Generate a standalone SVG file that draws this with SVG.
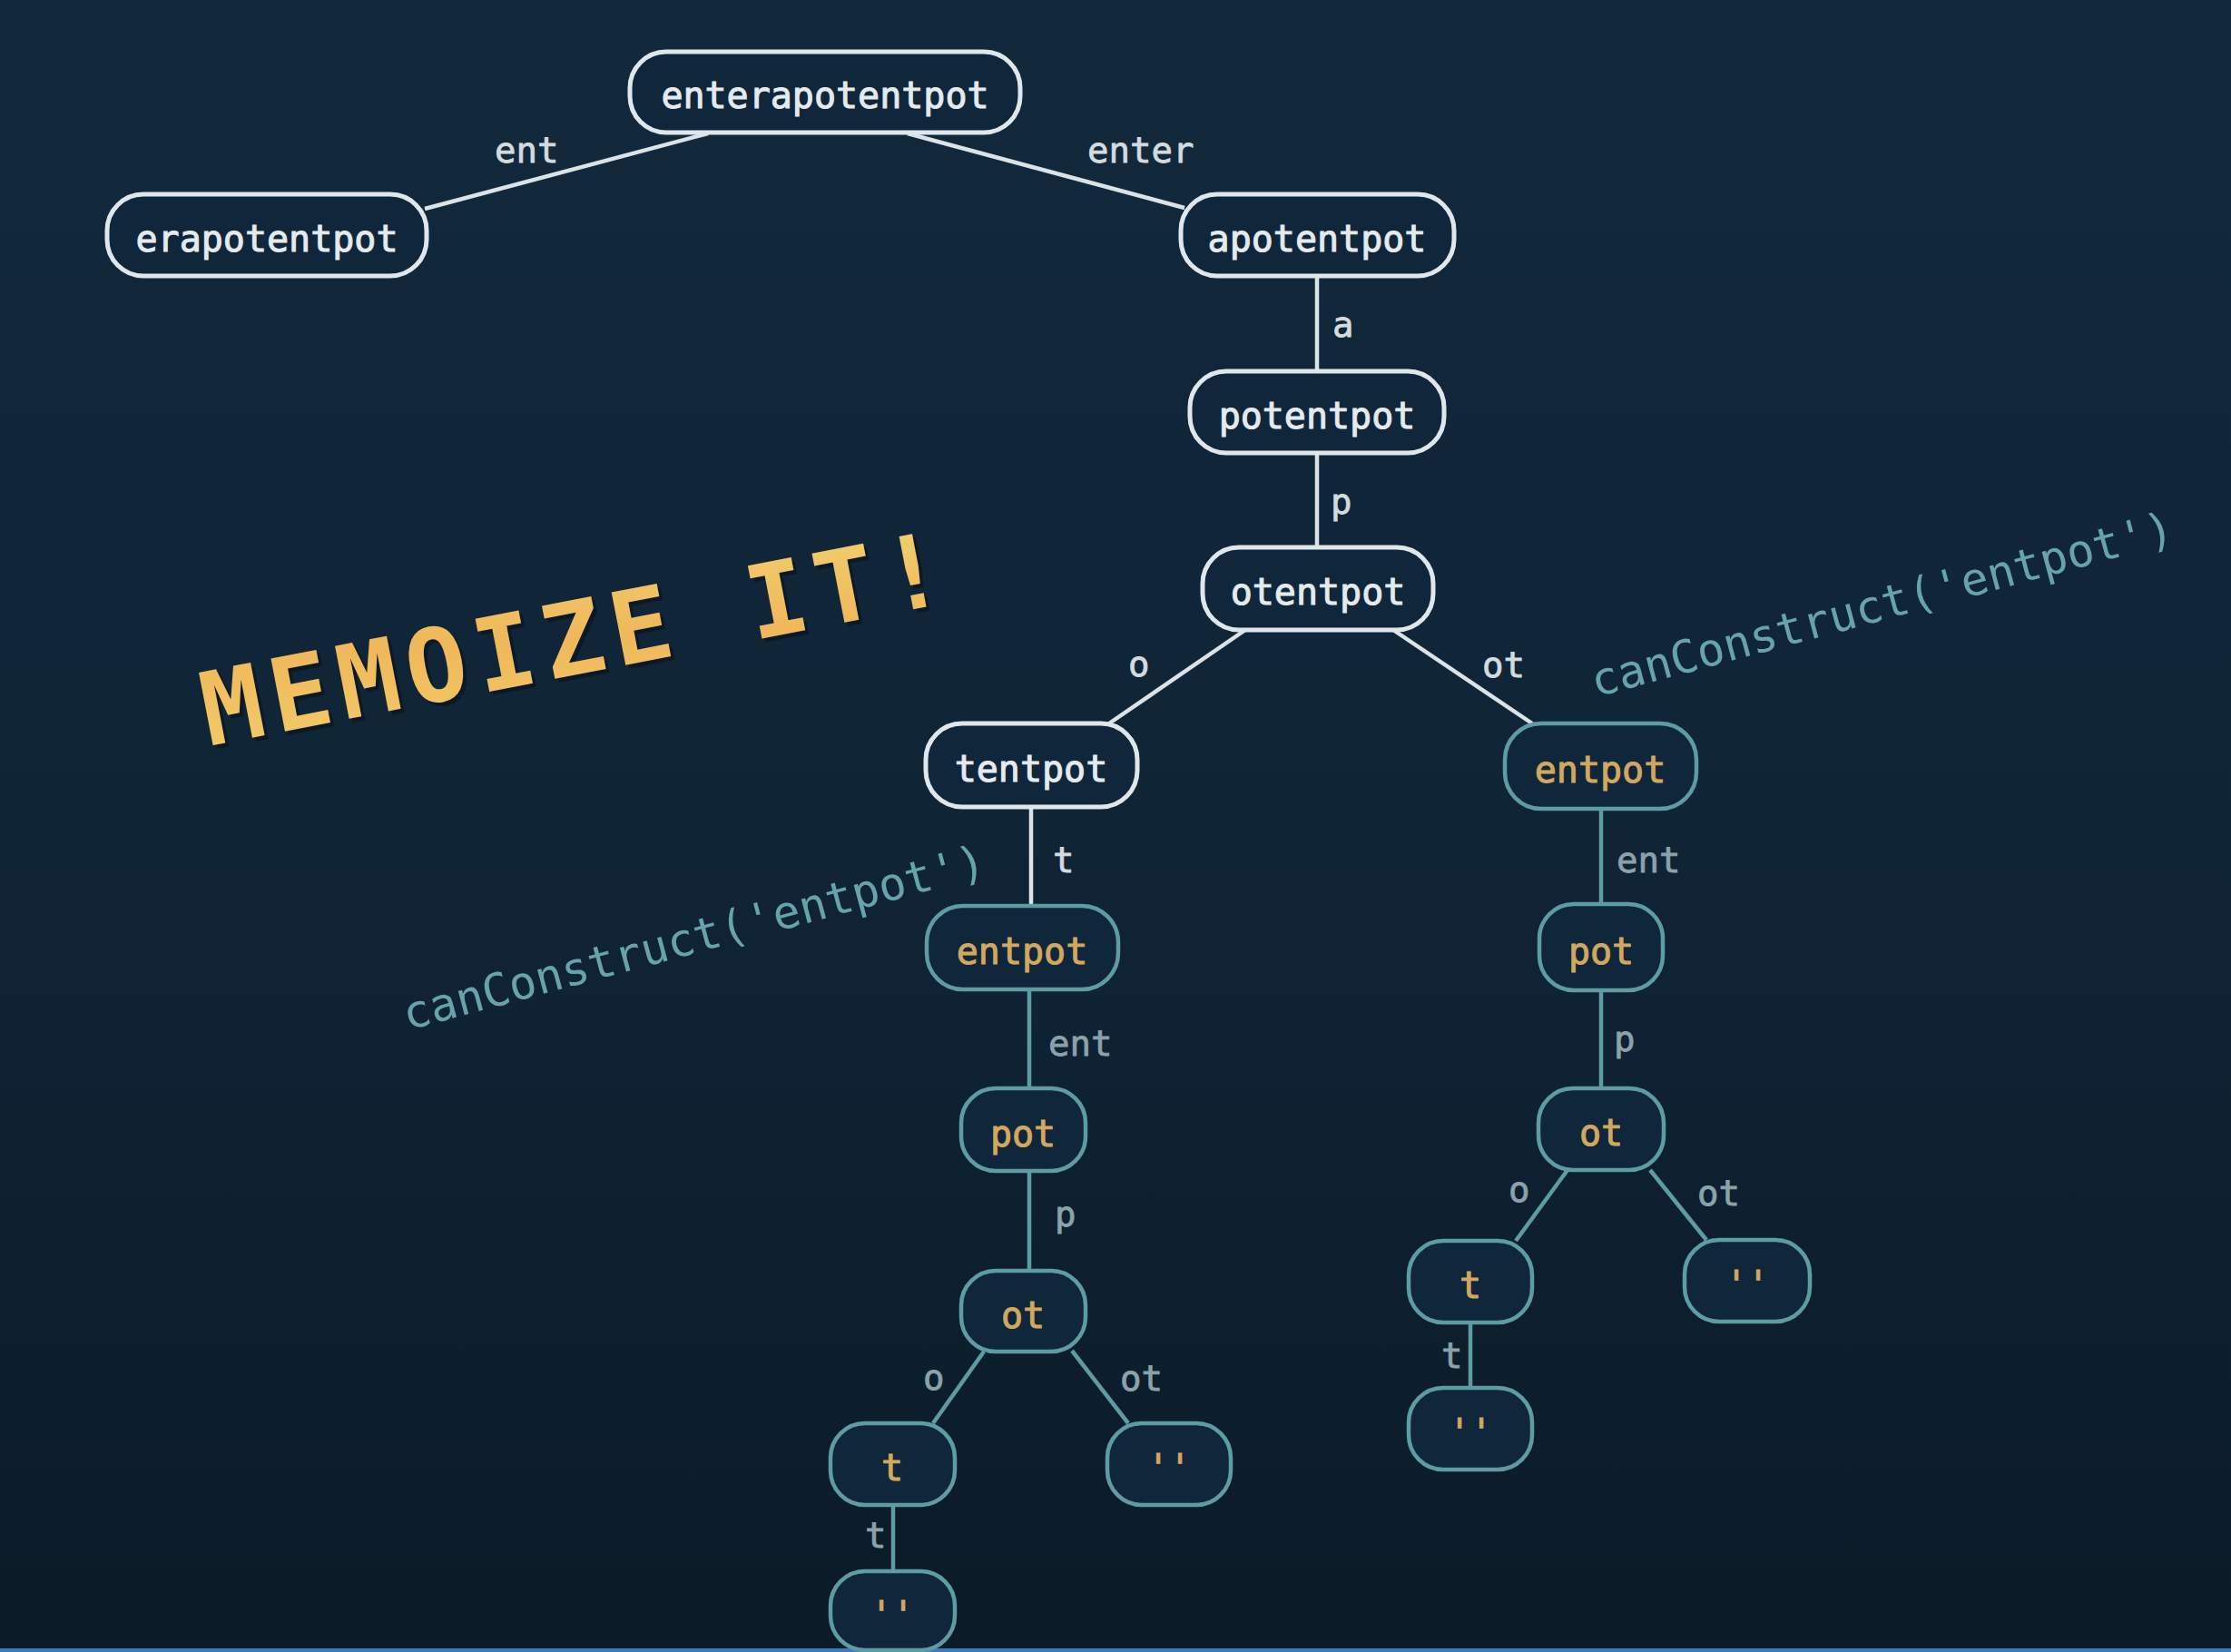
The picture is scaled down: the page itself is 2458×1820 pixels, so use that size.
<svg xmlns="http://www.w3.org/2000/svg" width="2458" height="1820" viewBox="0 0 2458 1820">
<defs>
<linearGradient id="bg" x1="0" y1="0" x2="0" y2="1">
<stop offset="0" stop-color="#12293c"/>
<stop offset="0.6" stop-color="#0f2334"/>
<stop offset="1" stop-color="#0b1a27"/>
</linearGradient>
<linearGradient id="gold" x1="0" y1="1" x2="1" y2="0">
<stop offset="0" stop-color="#f3cd6c"/>
<stop offset="0.5" stop-color="#efb85a"/>
<stop offset="1" stop-color="#f2d173"/>
</linearGradient>
<style>
.nw rect{fill:#10263a;stroke:#dfe7eb;stroke-width:5}
.nt rect{fill:#10263a;stroke:#5e9ca3;stroke-width:4.5}
.nw text{fill:#e4eaed;stroke:#e4eaed;stroke-width:1;font-family:"DejaVu Sans Mono","Liberation Mono",monospace;font-size:40px;text-anchor:middle;dominant-baseline:central}
.nt text{fill:#d2a860;stroke:#d2a860;stroke-width:1;font-family:"DejaVu Sans Mono","Liberation Mono",monospace;font-size:40px;text-anchor:middle;dominant-baseline:central}
.ew{stroke:#dbe3e7;stroke-width:4.5;fill:none}
.et{stroke:#5e9ca3;stroke-width:4.5;fill:none}
.lw{fill:#d3dbdf;stroke:#d3dbdf;stroke-width:0.8;font-family:"DejaVu Sans Mono","Liberation Mono",monospace;font-size:39px}
.lt{fill:#8aa3aa;stroke:#8aa3aa;stroke-width:0.8;font-family:"DejaVu Sans Mono","Liberation Mono",monospace;font-size:39px}
.cc{fill:#66a3aa;font-family:"DejaVu Sans Mono","Liberation Mono",monospace;font-size:50px}
.mz{font-family:"DejaVu Sans Mono","Liberation Mono",monospace;font-weight:bold;font-size:112px;letter-spacing:9px}
</style>
</defs>
<rect x="0" y="0" width="2458" height="1820" fill="url(#bg)"/>
<rect x="0" y="1816" width="2458" height="4" fill="#3a7bb8"/>

<g id="connectors">
<line class="ew" x1="780" y1="147" x2="468" y2="230"/>
<line class="ew" x1="1000" y1="147" x2="1305" y2="229"/>
<line class="ew" x1="1451" y1="304" x2="1451" y2="409"/>
<line class="ew" x1="1451" y1="499" x2="1451" y2="603"/>
<line class="ew" x1="1372" y1="694" x2="1222" y2="797"/>
<line class="ew" x1="1535" y1="694" x2="1688" y2="797"/>
<line class="ew" x1="1136" y1="889" x2="1136" y2="998"/>
<line class="et" x1="1134" y1="1090" x2="1134" y2="1199"/>
<line class="et" x1="1134" y1="1290" x2="1134" y2="1400"/>
<line class="et" x1="1084" y1="1489" x2="1028" y2="1568"/>
<line class="et" x1="1181" y1="1488" x2="1243" y2="1568"/>
<line class="et" x1="984" y1="1658" x2="984" y2="1731"/>
<line class="et" x1="1764" y1="891" x2="1764" y2="996"/>
<line class="et" x1="1764" y1="1091" x2="1764" y2="1199"/>
<line class="et" x1="1727" y1="1289" x2="1670" y2="1367"/>
<line class="et" x1="1818" y1="1289" x2="1880" y2="1366"/>
<line class="et" x1="1620" y1="1457" x2="1620" y2="1529"/>
</g>

<g id="edge-labels">
<text class="lw" x="545" y="179">ent</text>
<text class="lw" x="1198" y="179">enter</text>
<text class="lw" x="1468" y="371">a</text>
<text class="lw" x="1466" y="566">p</text>
<text class="lw" x="1243" y="745">o</text>
<text class="lw" x="1633" y="746">ot</text>
<text class="lw" x="1160" y="961">t</text>
<text class="lt" x="1155" y="1163">ent</text>
<text class="lt" x="1162" y="1351">p</text>
<text class="lt" x="1017" y="1531">o</text>
<text class="lt" x="1234" y="1532">ot</text>
<text class="lt" x="953" y="1705">t</text>
<text class="lt" x="1781" y="961">ent</text>
<text class="lt" x="1778" y="1158">p</text>
<text class="lt" x="1662" y="1324">o</text>
<text class="lt" x="1870" y="1328">ot</text>
<text class="lt" x="1588" y="1507">t</text>
</g>

<g id="n-root" class="nw"><rect x="694" y="57" width="430" height="89" rx="40"/><text x="909" y="105">enterapotentpot</text></g>
<g id="n-erapotentpot" class="nw"><rect x="118" y="214" width="352" height="90" rx="40"/><text x="294" y="263">erapotentpot</text></g>
<g id="n-apotentpot" class="nw"><rect x="1301" y="214" width="301" height="90" rx="40"/><text x="1451" y="263">apotentpot</text></g>
<g id="n-potentpot" class="nw"><rect x="1311" y="409" width="280" height="90" rx="40"/><text x="1451" y="458">potentpot</text></g>
<g id="n-otentpot" class="nw"><rect x="1325" y="603" width="254" height="91" rx="40"/><text x="1452" y="652">otentpot</text></g>
<g id="n-tentpot" class="nw"><rect x="1020" y="797" width="233" height="92" rx="40"/><text x="1136" y="847">tentpot</text></g>
<g id="n-entpot-r" class="nt"><rect x="1658" y="797" width="211" height="94" rx="40"/><text x="1763" y="848">entpot</text></g>
<g id="n-entpot-l" class="nt"><rect x="1021" y="998" width="211" height="92" rx="40"/><text x="1126" y="1048">entpot</text></g>
<g id="n-pot-r" class="nt"><rect x="1696" y="996" width="136" height="95" rx="38"/><text x="1764" y="1048">pot</text></g>
<g id="n-pot-l" class="nt"><rect x="1059" y="1199" width="137" height="91" rx="38"/><text x="1127" y="1249">pot</text></g>
<g id="n-ot-l" class="nt"><rect x="1059" y="1400" width="137" height="89" rx="38"/><text x="1127" y="1449">ot</text></g>
<g id="n-ot-r" class="nt"><rect x="1695" y="1199" width="138" height="90" rx="38"/><text x="1764" y="1248">ot</text></g>
<g id="n-t-l" class="nt"><rect x="915" y="1568" width="137" height="90" rx="38"/><text x="983" y="1617">t</text></g>
<g id="n-empty-l1" class="nt"><rect x="1220" y="1568" width="136" height="90" rx="38"/><text x="1288" y="1617">''</text></g>
<g id="n-empty-l2" class="nt"><rect x="915" y="1731" width="137" height="87" rx="38"/><text x="983" y="1779">''</text></g>
<g id="n-t-r" class="nt"><rect x="1552" y="1367" width="136" height="90" rx="38"/><text x="1620" y="1416">t</text></g>
<g id="n-empty-r1" class="nt"><rect x="1856" y="1366" width="138" height="90" rx="38"/><text x="1925" y="1415">''</text></g>
<g id="n-empty-r2" class="nt"><rect x="1552" y="1529" width="136" height="90" rx="38"/><text x="1620" y="1578">''</text></g>

<g id="memoize">
<text class="mz" x="234" y="826" transform="rotate(-11 234 826)" fill="#0a1520" opacity="0.7">MEMOIZE IT!</text>
<text class="mz" x="230" y="822" transform="rotate(-11 230 822)" fill="url(#gold)">MEMOIZE IT!</text>
</g>
<text class="cc" x="1758" y="768" transform="rotate(-15 1758 768)">canConstruct('entpot')</text>
<text class="cc" x="449" y="1135" transform="rotate(-15 449 1135)">canConstruct('entpot')</text>
</svg>
